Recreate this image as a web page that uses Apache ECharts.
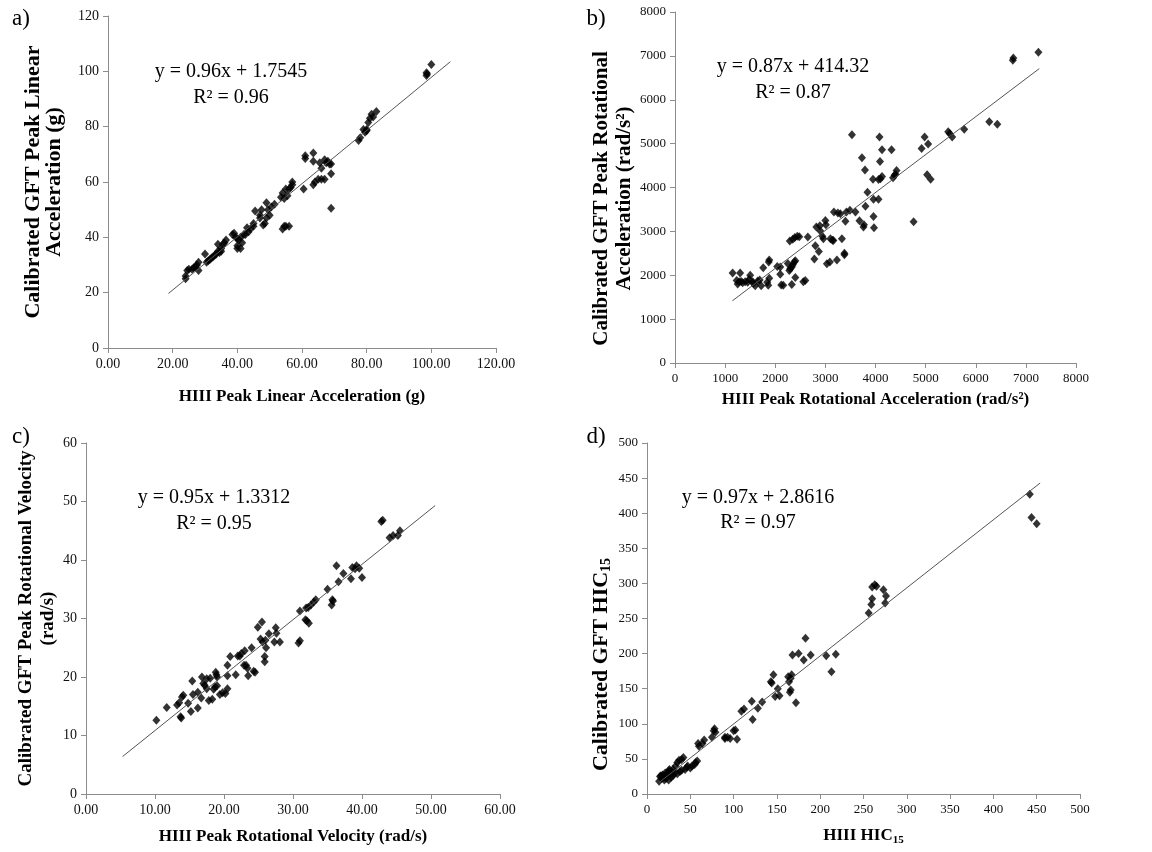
<!DOCTYPE html>
<html>
<head>
<meta charset="utf-8">
<script src="https://cdn.jsdelivr.net/npm/echarts@6/dist/echarts.min.js"></script>
<style>html,body{margin:0;padding:0;background:#fff}#c{width:1152px;height:852px}</style>
</head>
<body>
<div id="c"></div>
<script>
// ---- Panel a: peak linear acceleration (g) ----
const aX = [100,98.5,98.5,98.7,83,81.5,81,82,80.5,80,79.5,80,79,78,77.5,61,61,63.5,63.5,63.5,64,65,65.5,66,66,67,67,67.5,68,68.5,69,69,69,60.5,57,57,56.5,56,55.5,55,54.5,54,53.5,55,56,54,54.5,51.5,50.5,49.5,49,50,49,48.5,48,47.5,47,47,45.5,45,45,44,43.5,43,42.5,42,41.5,41,40.5,40,40,41,40,39.5,39,38.5,36.5,36,35.5,35,35,34.5,34,34,33.5,33,32.5,32,31.5,31,30.5,30,28,27.5,28,27,26.5,26,25,24.5,24,24];
const aY = [102.5,99.5,98.5,99,85.5,84.5,83,83.5,81.5,79,78,78.5,79,76,75,69.5,68.5,70.5,67.5,59,60,61,67,65,61,68,61,67,67.5,66.5,66.5,63,50.5,57.5,60,59,58,57.5,55,57.5,54,56,54.5,44,44,43,44,52,51,50,52.5,48,47,45,44.5,50,48,47,49.5,45,44,43,42,43.5,41,41,38,40,39,39.5,37,36,36,40,41.5,41,39,38,37.5,36,35,34.5,37.5,35,34,33.5,33,32.5,32,31.5,31,34,31,30,28,29.5,29,28.5,28.5,28,26,25];
const aTrend = [[18.7, 19.7], [105.9, 103.5]];

// ---- Panel b: peak rotational acceleration (rad/s^2) ----
const bX = [7250,6750,6740,6430,6270,5770,5530,5480,5450,5100,5030,5050,4980,4920,4760,4420,4400,4350,4380,4320,4130,4130,4090,4080,4060,4100,4060,3960,3950,3970,3960,3840,3800,3790,3730,3760,3770,3680,3600,3530,3490,3420,3400,3380,3380,3330,3300,3250,3230,3170,3160,3140,3100,3090,3030,3010,3000,2960,2940,2900,2890,2870,2820,2800,2780,2650,2600,2560,2480,2440,2390,2350,2290,2400,2380,2350,2330,2300,2280,2250,2400,2330,2160,2120,2100,2100,2040,1880,1870,1880,1860,1840,1760,1720,1690,1650,1600,1560,1500,1480,1450,1400,1350,1300,1280,1250,1230,1150,1550,1320];
const bY = [7080,6950,6900,5440,5500,5330,5150,5230,5270,4190,4290,4990,5150,4890,3220,4390,4300,4220,4280,4860,4860,4250,4590,5150,4180,4200,3730,3730,4190,3080,3340,3890,3570,4400,4680,3100,3150,3240,3440,5200,3480,3440,3230,2470,2500,2830,3400,3420,2350,3440,2790,2800,2830,2300,2260,3150,3250,2830,2890,3010,3130,2540,3100,2670,2370,2870,1880,1850,2880,2890,2860,2820,2780,2330,2300,2240,2190,2150,2110,2270,1950,1790,1770,1780,2020,2190,2200,2350,2300,1930,1770,1840,2170,1760,1890,1870,1760,1820,2000,1910,1840,1850,1830,2050,1850,1800,1880,2050,1850,1860];
const bTrend = [[1145, 1418], [7268, 6710]];

// ---- Panel c: peak rotational velocity (rad/s) ----
const cX = [45.5,45.2,44.5,44,43,42.8,40,39.6,39.2,39,38.6,38.4,37.3,36.6,36.3,35.8,35.6,35.7,35,33.3,33,32.6,32.2,31.9,32.3,32,31.8,31,30.8,31,28.1,27.6,27.5,27.3,26.5,26.1,25.9,25.9,26,25.6,25.3,25.5,24.9,24.5,24.3,24,23.5,23.4,23.2,22.9,23,22.5,22.3,22,21.7,20.9,20.5,20.5,20.5,20.2,19.8,19.4,19,18.9,18.8,18.7,18.5,18.3,18,17.8,17.5,17.2,17,16.8,16.7,16.2,16.2,15.4,15.5,15.2,14.8,14.1,13.9,13.7,13.8,13.5,13.2,11.7,10.2,17.5,19];
const cY = [45,44.2,44.2,43.8,46.8,46.6,37,38.6,39,38.5,38.7,36.8,37.7,36.3,39,33,32.3,33.2,35,33.2,32.8,32.3,31.9,31.8,29.2,29.6,29.8,31.3,25.8,26.2,26,27.5,28.4,26,27.4,25,23.5,22.6,26.3,26,26.5,29.4,28.5,20.8,21,25,20.2,21.5,22,22,24.5,24,23.6,23.6,20.4,23.5,20.2,22,18,17.2,17.3,17,20,20.4,20.8,18.3,17.9,16.2,19.8,16,19.7,18.6,18.9,20,16.4,17.4,14.7,19.3,17,14.1,15.5,16.9,16.6,13.2,13,15.6,15.2,14.8,12.6,18,18.5];
const cTrend = [[5.3, 6.4], [50.6, 49.3]];

// ---- Panel d: HIC15 ----
const dX = [442,444,450,276,275,273,265,263,260,260,259,256,218,213,207,189,183,181,175,172,168,167,166,166,165,164,163,153,151,148,146,144,143,133,128,122,121,112,109,104,102,100,96,93,90,90,79,78,77,75,66,64,60,59,58,56,52,50,46,44,42,40,37,35,38,35,33,30,28,27,26,25,24,23,22,21,20,19,18,17,16,15,14,30,32,28,25,20,40,47,55];
const dY = [427,394,385,282,272,291,296,298,295,278,270,258,199,174,197,198,222,191,200,130,198,170,165,148,145,160,167,140,150,139,170,158,160,131,122,106,132,121,118,78,91,90,79,81,79,81,88,93,90,81,77,72,68,72,47,45,40,37,38,35,52,49,48,45,32,29,40,35,32,28,35,33,30,27,22,30,26,24,27,22,26,25,18,26,30,24,20,20,34,40,42];
const dTrend = [[14, 16.4], [454, 443]];

// ---- Text ----
const panelLabels = ['a)', 'b)', 'c)', 'd)'];
const equations = ['y = 0.96x + 1.7545', 'y = 0.87x + 414.32', 'y = 0.95x + 1.3312', 'y = 0.97x + 2.8616'];
const r2 = ['R² = 0.96', 'R² = 0.87', 'R² = 0.95', 'R² = 0.97'];
const xNames = ['HIII Peak Linear Acceleration (g)', 'HIII Peak Rotational Acceleration (rad/s²)', 'HIII Peak Rotational Velocity (rad/s)', '{t|HIII HIC}{s|15}'];
const yNames = ['Calibrated GFT Peak Linear\nAcceleration (g)', 'Calibrated GFT Peak Rotational\nAcceleration (rad/s²)', 'Calibrated GFT Peak Rotational Velocity\n(rad/s)', '{t|Calibrated GFT HIC}{s|15}'];
const axMax = [120, 8000, 60, 500];
const axStep = [20, 1000, 10, 50];
const xDecimals = [2, 0, 2, 0];

const FONT = '"Liberation Serif", "Times New Roman", serif';
const zip = (xs, ys) => xs.map((x, i) => [x, ys[i]]);
const pts = [zip(aX, aY), zip(bX, bY), zip(cX, cY), zip(dX, dY)];
const trends = [aTrend, bTrend, cTrend, dTrend];

const grids = [
  {left: 108, top: 16, width: 388, height: 332},
  {left: 675, top: 12, width: 401, height: 351},
  {left: 86, top: 443, width: 414, height: 351},
  {left: 647, top: 443, width: 433, height: 351}
];
const tickFont = [14, 13, 14, 13];
const xGap = [40, 28, 34, 32];
const yGap = [43, 38, 26, 35];
const yFont = [22, 21, 19, 22];
const yLineH = [21, 23, 22, 22];
const yPad = [[0,0,0,0],[0,22,0,0],[0,0,0,0],[0,92,0,0]];

const richX = {
  t: {fontFamily: FONT, fontWeight: 'bold', fontSize: 17, color: '#000'},
  s: {fontFamily: FONT, fontWeight: 'bold', fontSize: 11, color: '#000', padding: [9, 0, 0, 0]}
};
const richY = {
  t: {fontFamily: FONT, fontWeight: 'bold', fontSize: 22, color: '#000'},
  s: {fontFamily: FONT, fontWeight: 'bold', fontSize: 14, color: '#000', padding: [11, 0, 0, 0]}
};

const axisLine = {lineStyle: {color: '#8c8c8c', width: 1}};
const xAxis = [], yAxis = [], series = [];
for (let i = 0; i < 4; i++) {
  xAxis.push({
    type: 'value', gridIndex: i, min: 0, max: axMax[i], interval: axStep[i],
    axisLine: axisLine, axisTick: {show: true, length: 5, lineStyle: {color: '#8c8c8c'}},
    splitLine: {show: false},
    axisLabel: {fontFamily: FONT, fontSize: tickFont[i], color: '#111', margin: 9,
      formatter: v => v.toFixed(xDecimals[i])},
    name: xNames[i], nameLocation: 'middle', nameGap: xGap[i],
    nameTextStyle: {fontFamily: FONT, fontWeight: 'bold', fontSize: 17, color: '#000', rich: richX}
  });
  yAxis.push({
    type: 'value', gridIndex: i, min: 0, max: axMax[i], interval: axStep[i],
    axisLine: Object.assign({show: true}, axisLine), axisTick: {show: true, length: 5, lineStyle: {color: '#8c8c8c'}},
    splitLine: {show: false},
    axisLabel: {fontFamily: FONT, fontSize: tickFont[i], color: '#111', margin: 9,
      formatter: v => String(v)},
    name: yNames[i], nameLocation: 'middle', nameGap: yGap[i], nameRotate: 90,
    nameTextStyle: {fontFamily: FONT, fontWeight: 'bold', fontSize: yFont[i], color: '#000', lineHeight: yLineH[i],
      padding: yPad[i], rich: richY}
  });
  series.push({
    type: 'scatter', xAxisIndex: i, yAxisIndex: i, data: pts[i],
    symbol: 'diamond', symbolSize: [8, 9], itemStyle: {color: '#000'}, silent: true
  });
  series.push({
    type: 'line', xAxisIndex: i, yAxisIndex: i, data: trends[i],
    symbol: 'none', lineStyle: {color: '#555', width: 1}, silent: true
  });
}

const labelPos = [[21, 19], [596, 19], [21, 437], [596, 437]];
const eqPos = [[231, 72, 98], [793, 67, 93], [214, 498, 524], [758, 498, 523]];
const graphic = [];
for (let i = 0; i < 4; i++) {
  graphic.push({type: 'text', x: labelPos[i][0], y: labelPos[i][1],
    style: {text: panelLabels[i], font: '23px ' + FONT, fill: '#000', align: 'center', verticalAlign: 'middle'}});
  graphic.push({type: 'text', x: eqPos[i][0], y: eqPos[i][1],
    style: {text: equations[i], font: '20px ' + FONT, fill: '#000', align: 'center', verticalAlign: 'middle'}});
  graphic.push({type: 'text', x: eqPos[i][0], y: eqPos[i][2],
    style: {text: r2[i], font: '20px ' + FONT, fill: '#000', align: 'center', verticalAlign: 'middle'}});
}

const chart = echarts.init(document.getElementById('c'), null, {renderer: 'canvas'});
chart.setOption({
  backgroundColor: '#fff',
  animation: false,
  grid: grids,
  xAxis: xAxis,
  yAxis: yAxis,
  series: series,
  graphic: graphic
});
</script>
</body>
</html>
